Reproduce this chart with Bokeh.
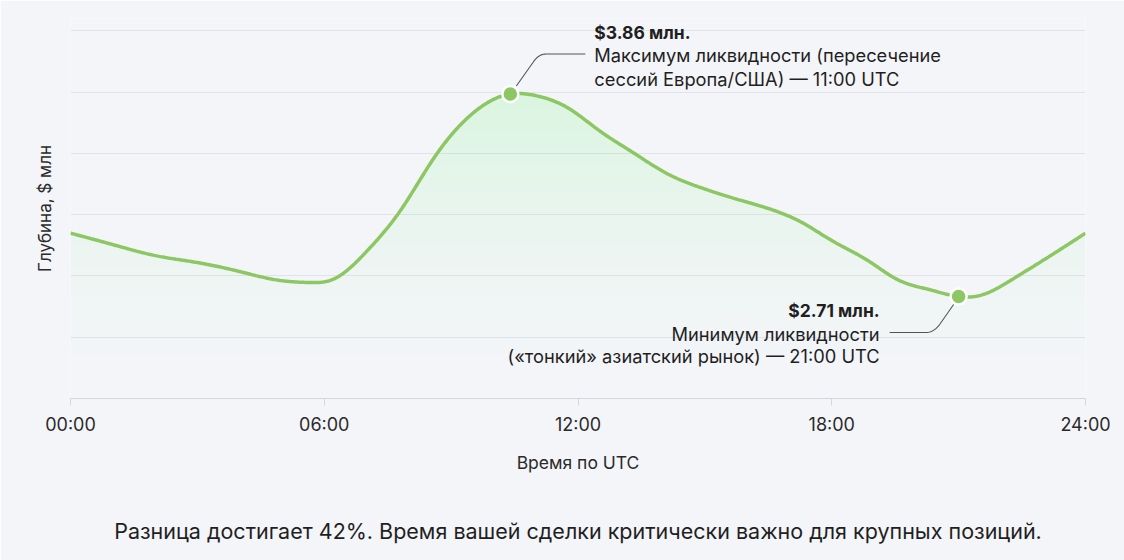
import numpy as np
from bokeh.plotting import figure
from bokeh.models import FixedTicker, Label, Range1d, LinearAxis
from bokeh.embed import file_html
from bokeh.resources import INLINE

# ---- data ----
hours = [0, 1, 2, 3, 4, 5, 5.6, 6.2, 7, 7.8, 8.6, 9.4, 10.4, 11, 11.75, 12.5, 13.3,
         14.1, 14.9, 15.7, 16.5, 17.3, 18.0, 18.85, 19.6, 20.3, 21.0, 21.5, 22.3, 23.1, 24]
depth = [3.07, 3.005, 2.943, 2.903, 2.852, 2.80, 2.79, 2.807, 2.966, 3.198, 3.499, 3.727,
         3.86, 3.851, 3.783, 3.653, 3.528, 3.409, 3.329, 3.267, 3.21, 3.13, 3.028, 2.915,
         2.801, 2.75, 2.71, 2.716, 2.812, 2.931, 3.07]
tick_hours = [0, 6, 12, 18, 24]
tick_labels = ["00:00", "06:00", "12:00", "18:00", "24:00"]
max_note = ["Максимум ликвидности (пересечение", "сессий Европа/США) — 11:00 UTC"]
min_note = ["Минимум ликвидности", "(«тонкий» азиатский рынок) — 21:00 UTC"]
caption = "Разница достигает 42%. Время вашей сделки критически важно для крупных позиций."

FONT = "Inter"
BG = "#f4f5f9"
GREEN = "#8cc764"
FILL = "#86cf52"
TXT = "#1f1f1f"

# ---- geometry ----
W, H = 1124, 560
FL, FR, FT, FB = 70, 39, 18, 162
fw, fh = W - FL - FR, H - FT - FB
y0 = 2.131
y1 = y0 + fh * 0.005679
px_x = 24.0 / fw
px_y = (y1 - y0) / fh


def natural_spline(x, y, xs):
    x = np.asarray(x, float); y = np.asarray(y, float)
    n = len(x); h = np.diff(x)
    A = np.zeros((n, n)); r = np.zeros(n)
    A[0, 0] = 1; A[-1, -1] = 1
    for i in range(1, n - 1):
        A[i, i - 1] = h[i - 1]; A[i, i] = 2 * (h[i - 1] + h[i]); A[i, i + 1] = h[i]
        r[i] = 6 * ((y[i + 1] - y[i]) / h[i] - (y[i] - y[i - 1]) / h[i - 1])
    M = np.linalg.solve(A, r)
    idx = np.clip(np.searchsorted(x, xs) - 1, 0, n - 2)
    xa, xb, hh = x[idx], x[idx + 1], h[idx]
    return (M[idx] * (xb - xs)**3 / (6 * hh) + M[idx + 1] * (xs - xa)**3 / (6 * hh)
            + (y[idx] / hh - M[idx] * hh / 6) * (xb - xs)
            + (y[idx + 1] / hh - M[idx + 1] * hh / 6) * (xs - xa))


xs = np.linspace(0, 24, 800)
ys = natural_spline(hours, depth, xs)

p = figure(width=W, height=H, output_backend="svg", toolbar_location=None,
           x_range=Range1d(0, 24), y_range=Range1d(y0, y1),
           min_border_left=FL, min_border_right=FR, min_border_top=FT, min_border_bottom=FB)
p.background_fill_color = BG
p.border_fill_color = BG
p.outline_line_color = None

# gradient-like fill: stacked translucent bands (darker towards the top)
levels = y0 + (max(depth) - y0) * np.linspace(0, 1, 26) ** 0.6
for L in levels:
    p.varea(x=xs, y1=np.minimum(ys, L), y2=ys, fill_color=FILL, fill_alpha=0.0085)

p.line(xs, ys, line_color=GREEN, line_width=3.5)

imax = int(np.argmax(depth)); imin = int(np.argmin(depth))
p.scatter([hours[imax], hours[imin]], [depth[imax], depth[imin]], size=16,
          fill_color=GREEN, line_color="white", line_width=2.5)


def leader(hx, hy, offs, ctrl_i):
    # offs in screen px (x right, y down) relative to the point
    xs_l, ys_l = [], []
    pts = [(hx + ox * px_x, hy - oy * px_y) for ox, oy in offs]
    a, c, b = pts[ctrl_i - 1], pts[ctrl_i], pts[ctrl_i + 1]
    for q in pts[:ctrl_i]:
        xs_l.append(q[0]); ys_l.append(q[1])
    for t in np.linspace(0, 1, 12)[1:]:
        xs_l.append((1 - t)**2 * a[0] + 2 * (1 - t) * t * c[0] + t**2 * b[0])
        ys_l.append((1 - t)**2 * a[1] + 2 * (1 - t) * t * c[1] + t**2 * b[1])
    for q in pts[ctrl_i + 2:]:
        xs_l.append(q[0]); ys_l.append(q[1])
    p.line(xs_l, ys_l, line_color="#555555", line_width=1.1)


leader(hours[imax], depth[imax], [(6, -8), (23, -32), (28, -40), (36, -40), (75, -40)], 2)
leader(hours[imin], depth[imin], [(-5, 8), (-19, 28), (-25, 36), (-33, 36), (-69, 36)], 2)


def note(hx, hy, dx, dys, lines, align):
    for i, (dy, txt) in enumerate(zip(dys, lines)):
        p.add_layout(Label(x=hx, y=hy, x_offset=dx, y_offset=dy, text=txt,
                           text_font=FONT, text_font_size="17.5px" if i == 0 else "18.3px",
                           text_font_style="bold" if i == 0 else "normal",
                           text_color=TXT, text_align=align, text_baseline="middle"))


note(hours[imax], depth[imax], 84, [62, 39, 15],
     [f"${depth[imax]:.2f} млн."] + max_note, "left")
note(hours[imin], depth[imin], -79, [-14, -37, -59],
     [f"${depth[imin]:.2f} млн."] + min_note, "right")

# x axis
p.xaxis.ticker = FixedTicker(ticks=tick_hours)
p.xaxis.major_label_overrides = dict(zip(tick_hours, tick_labels))
p.xaxis.minor_tick_line_color = None
p.xaxis.axis_line_color = "#d3d6dd"
p.xaxis.major_tick_line_color = "#d3d6dd"
p.xaxis.major_tick_out = 7
p.xaxis.major_tick_in = 0
p.xaxis.major_label_standoff = 8
p.xaxis.major_label_text_font = FONT
p.xaxis.major_label_text_font_size = "18px"
p.xaxis.major_label_text_color = "#2a2a2a"
p.xaxis.axis_label = "Время по UTC"
p.xaxis.axis_label_text_font = FONT
p.xaxis.axis_label_text_font_size = "17.5px"
p.xaxis.axis_label_text_font_style = "normal"
p.xaxis.axis_label_text_color = "#2a2a2a"
p.xaxis.axis_label_standoff = 14

# caption as an extra, otherwise empty axis below
cap = LinearAxis(ticker=FixedTicker(ticks=[]), axis_label=caption,
                 axis_line_color=None, major_tick_line_color=None,
                 minor_tick_line_color=None, major_label_text_font_size="0px",
                 axis_label_text_font=FONT, axis_label_text_font_size="21.5px",
                 axis_label_text_font_style="normal", axis_label_text_color=TXT,
                 axis_label_standoff=42)
p.add_layout(cap, "below")

# y axis (label only)
grid_vals = [y0 + 0.348 * k for k in range(1, 7)]
p.yaxis.ticker = FixedTicker(ticks=grid_vals)
p.yaxis.major_label_text_font_size = "0px"
p.yaxis.major_tick_line_color = None
p.yaxis.minor_tick_line_color = None
p.yaxis.axis_line_color = None
p.yaxis.axis_label = "Глубина, $ млн"
p.yaxis.axis_label_text_font = FONT
p.yaxis.axis_label_text_font_size = "17px"
p.yaxis.axis_label_text_font_style = "normal"
p.yaxis.axis_label_text_color = "#2a2a2a"
p.yaxis.axis_label_standoff = 10

p.xgrid.visible = False
p.ygrid.ticker = FixedTicker(ticks=grid_vals)
p.ygrid.grid_line_color = "#e1e3e9"
p.ygrid.grid_line_width = 1

html = file_html(p, INLINE)
open("out.html", "w").write(html)
